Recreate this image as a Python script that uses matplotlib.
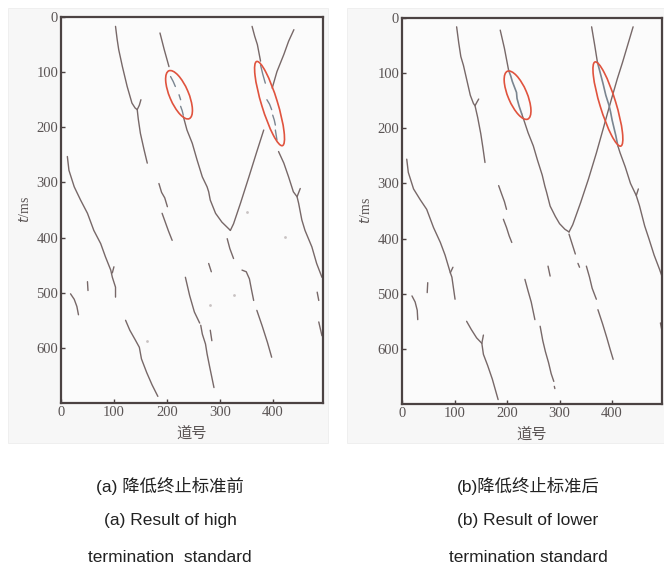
import matplotlib
matplotlib.use("Agg")
import matplotlib.pyplot as plt
from matplotlib.patches import Ellipse, Rectangle
from matplotlib.transforms import ScaledTranslation

# ---------------- data: picked events (trace number, time in ms) ----------------
# panel (a): before lowering the termination standard
a_event1 = [(103, 17), (106, 40), (109, 59), (116, 90), (125, 126), (134, 156), (140, 165), (144, 168),
            (146, 185), (150, 211), (157, 241), (163, 265)]
a_event1_branch = [(144, 168), (148, 160), (151, 150)]
a_event2_top = [(187, 29), (195, 59), (204, 90)]
a_event2_gap = [[(207, 108), (212, 117), (216, 126)], [(223, 141), (226, 150)], [(226, 162), (229, 170), (231, 178)]]
a_event2_low = [(231, 180), (238, 205), (248, 229), (257, 259), (267, 290), (276, 308), (279, 317), (282, 332),
                (292, 356), (304, 372), (320, 387)]
a_rise_low = [(320, 387), (326, 375), (339, 338), (355, 290), (370, 244), (383, 205)]
a_rise_up = [(399, 129), (408, 99), (421, 68), (430, 44), (440, 23)]
a_event3_top = [(361, 17), (366, 35), (371, 50), (377, 80)]
a_event3_gap = [[(377, 87), (381, 103), (386, 120)], [(389, 150), (394, 158), (398, 168)],
                [(400, 178), (403, 187), (405, 196)], [(405, 205), (408, 223)]]
a_event3_low = [(411, 244), (421, 265), (430, 290), (439, 317), (446, 326), (449, 338), (455, 368),
                (461, 387), (474, 417), (483, 447), (493, 472)]
a_event3_branch = [(446, 326), (452, 311)]
a_event4 = [(12, 253), (15, 278), (25, 308), (37, 332), (50, 356), (62, 387), (75, 411), (84, 435),
            (94, 459), (97, 472), (103, 490), (103, 508)]
a_event4_branch = [(97, 464), (100, 453)]
a_pieces = [
    [(185, 302), (190, 318), (196, 328), (201, 344)],
    [(191, 356), (197, 372), (203, 388), (210, 405)],
    [(314, 402), (319, 420), (326, 438)],
    [(235, 472), (243, 505), (252, 535), (262, 555)],
    [(264, 559), (267, 575), (273, 593), (276, 611), (281, 635), (289, 672)],
    [(282, 568), (285, 587)],
    [(342, 459), (350, 462), (356, 475), (360, 495), (364, 514)],
    [(370, 532), (380, 560), (390, 590), (398, 617)],
    [(122, 550), (130, 568), (140, 585), (148, 599), (152, 620), (162, 645), (172, 667), (183, 688)],
    [(18, 502), (25, 512), (30, 525), (33, 540)],
    [(50, 480), (51, 496)],
    [(279, 447), (284, 462)],
    [(484, 499), (487, 514)],
    [(487, 553), (493, 578)],
]
a_dots = [(351, 353), (424, 399), (326, 505), (282, 523), (163, 587)]
a_rings = [((223, 141), -67), ((394, 157), -73)]

# panel (b): after lowering the termination standard
b_event1 = [(104, 16), (108, 45), (112, 70), (117, 86), (124, 115), (130, 140), (136, 155), (139, 159),
            (144, 180), (150, 210), (154, 235), (158, 262)]
b_event1_branch = [(139, 159), (143, 152), (146, 147)]
b_event2_top = [(187, 22), (195, 55), (203, 95)]
b_event2_fill = [(203, 95), (207, 105), (210, 115), (214, 125), (218, 135), (219, 146), (223, 160), (228, 174)]
b_event2_low = [(228, 174), (232, 185), (240, 208), (250, 232), (258, 258), (267, 285), (272, 305),
                (275, 315), (282, 341), (292, 360), (300, 373), (310, 383), (318, 388)]
b_rise = [(318, 388), (325, 375), (340, 335), (355, 292), (370, 245), (383, 201), (392, 170),
          (400, 143), (410, 110), (420, 80), (430, 48), (440, 16)]
b_event3_top = [(361, 16), (367, 50), (372, 80)]
b_event3_fill = [(372, 80), (377, 98), (383, 120), (388, 140), (394, 158), (397, 170), (400, 185),
                 (405, 205), (407, 213), (411, 232)]
b_event3_low = [(411, 232), (415, 244), (425, 270), (435, 300), (446, 322), (452, 340), (462, 377),
                (470, 400), (480, 430), (490, 455), (497, 474)]
b_event3_branch = [(446, 322), (450, 310)]
b_event4 = [(9, 256), (12, 280), (22, 310), (35, 330), (47, 347), (60, 380), (73, 407), (82, 430),
            (92, 462), (95, 470), (101, 510)]
b_event4_branch = [(92, 462), (97, 452)]
b_pieces = [
    [(184, 304), (190, 320), (195, 333), (199, 347)],
    [(193, 365), (199, 380), (204, 395), (209, 407)],
    [(318, 392), (324, 410), (330, 428)],
    [(335, 445), (338, 452)],
    [(234, 474), (240, 495), (246, 515), (253, 547)],
    [(263, 559), (268, 585), (273, 605), (279, 625), (284, 645), (289, 659)],
    [(290, 668), (291, 672)],
    [(351, 450), (357, 470), (362, 490), (370, 510)],
    [(373, 529), (382, 555), (390, 580), (396, 600), (402, 619)],
    [(123, 550), (132, 565), (142, 580), (152, 590), (155, 610), (163, 630), (172, 655), (183, 692)],
    [(152, 590), (155, 575)],
    [(19, 504), (25, 515), (29, 530), (30, 547)],
    [(49, 480), (48, 498)],
    [(278, 450), (282, 468)],
    [(492, 553), (497, 577)],
]
b_rings = [((220, 140), -67), ((392, 156), -73)]

x_ticks = [0, 100, 200, 300, 400]
y_ticks = [0, 100, 200, 300, 400, 500, 600]
x_label = "道号"
y_label = r"$\it{t}$/ms"
captions_a = ["(a) 降低终止标准前", "(a) Result of high", "termination  standard"]
captions_b = ["(b)降低终止标准后", "(b) Result of lower", "termination standard"]

# ---------------- styling ----------------
TRACE = "#776868"
FILLED = "#7a8590"
RING = "#e0533e"
SPINE = "#4b4242"
LABEL = "#5a5454"
CJK = ["Noto Sans CJK SC", "DejaVu Sans"]
SERIF = ["Liberation Serif", "DejaVu Serif"]
CAP = ["Liberation Sans", "Noto Sans CJK SC"]

W, H = 664, 568
fig = plt.figure(figsize=(W / 100, H / 100), dpi=100)
fig.patch.set_facecolor("white")

# light panel backgrounds
for x0, x1 in [(8, 328), (347, 664)]:
    fig.add_artist(Rectangle((x0 / W, 1 - 443 / H), (x1 - x0) / W, (443 - 8) / H,
                             transform=fig.transFigure, facecolor="#f7f7f7", edgecolor="#eeeeee",
                             lw=0.6, zorder=0))


def line(ax, pts, color=TRACE, lw=1.0):
    xs = [p[0] for p in pts]
    ys = [p[1] for p in pts]
    ax.plot(xs, ys, color=color, lw=lw, solid_capstyle="round", solid_joinstyle="round")


def ring(ax, center, angle, length_in, width_in):
    tr = fig.dpi_scale_trans + ScaledTranslation(center[0], center[1], ax.transData)
    ax.add_patch(Ellipse((0, 0), length_in, width_in, angle=angle, transform=tr,
                         fill=False, edgecolor=RING, lw=1.2, zorder=5))


def frame(ax):
    ax.set_xlim(0, 495)
    ax.set_ylim(700, 0)
    ax.set_facecolor("#fbfbfb")
    for s in ax.spines.values():
        s.set_color(SPINE)
        s.set_linewidth(1.6)
    ax.set_xticks(x_ticks)
    ax.set_yticks(y_ticks)
    ax.tick_params(direction="in", length=3, width=1, color=SPINE, labelsize=10.5,
                   labelcolor=LABEL, pad=2)
    for lab in ax.get_xticklabels() + ax.get_yticklabels():
        lab.set_family(SERIF)
    ax.set_xlabel(x_label, family=CJK, fontsize=11, color=LABEL, labelpad=4)
    ax.set_ylabel(y_label, family=SERIF, fontsize=10, color=LABEL, labelpad=3)


# panel (a)
ax1 = fig.add_axes([61 / W, 1 - 403 / H, (323 - 61) / W, (403 - 17) / H])
frame(ax1)
for pts in [a_event1, a_event1_branch, a_event2_top, a_event2_low, a_rise_low, a_rise_up,
            a_event3_top, a_event3_low, a_event3_branch, a_event4, a_event4_branch] + a_pieces:
    line(ax1, pts)
for pts in a_event2_gap + a_event3_gap:
    line(ax1, pts, color=FILLED)
ax1.scatter([p[0] for p in a_dots], [p[1] for p in a_dots], s=4, color="#c8c2c2", lw=0)
ring(ax1, a_rings[0][0], a_rings[0][1], 0.52, 0.19)
ring(ax1, a_rings[1][0], a_rings[1][1], 0.88, 0.16)

# panel (b)
ax2 = fig.add_axes([402 / W, 1 - 404 / H, (662 - 402) / W, (404 - 18) / H])
frame(ax2)
for pts in [b_event1, b_event1_branch, b_event2_top, b_event2_low, b_rise,
            b_event3_top, b_event3_low, b_event3_branch, b_event4, b_event4_branch] + b_pieces:
    line(ax2, pts)
for pts in [b_event2_fill, b_event3_fill]:
    line(ax2, pts, color=FILLED, lw=1.2)
ring(ax2, b_rings[0][0], b_rings[0][1], 0.52, 0.19)
ring(ax2, b_rings[1][0], b_rings[1][1], 0.88, 0.16)

# captions
for cx, caps in [(170, captions_a), (528, captions_b)]:
    for cy, txt in zip([486, 520, 557], caps):
        fig.text(cx / W, 1 - cy / H, txt, ha="center", va="center", family=CAP,
                 fontsize=12.5, color="#222222")

fig.savefig("out.png", dpi=100, facecolor="white")
